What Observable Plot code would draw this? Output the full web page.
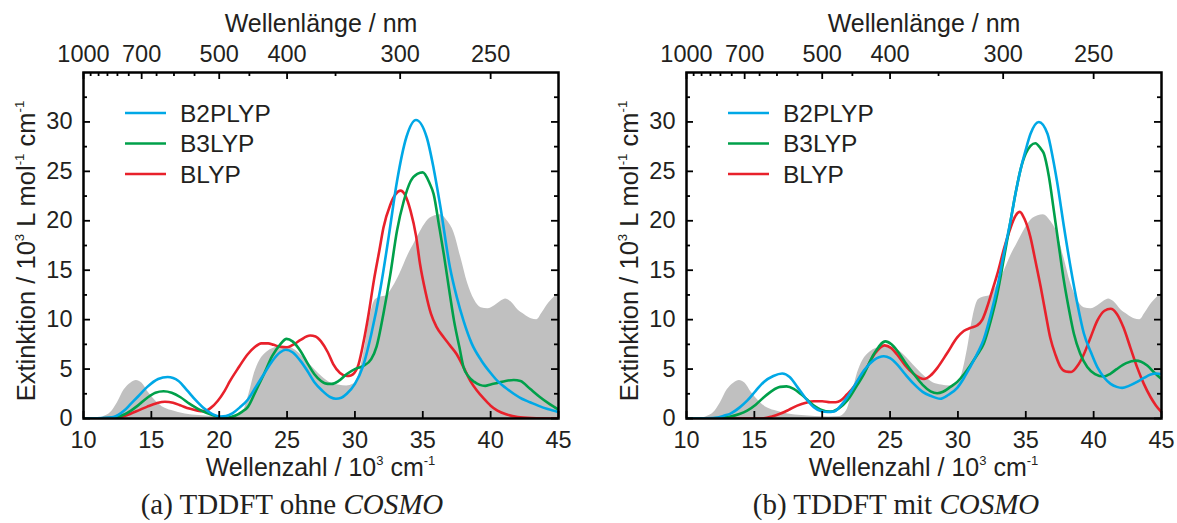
<!DOCTYPE html>
<html><head><meta charset="utf-8">
<script src="https://cdn.jsdelivr.net/npm/d3@7"></script>
<script src="https://cdn.jsdelivr.net/npm/@observablehq/plot@0.6"></script>
<style>
html,body{margin:0;padding:0;background:#fff}
body{width:1177px;height:523px;overflow:hidden;position:relative;font-family:"Liberation Sans",Arial,sans-serif}
.panel{position:absolute;top:0}
.cap{position:absolute;top:490px;font-family:"Liberation Serif","DejaVu Serif",serif;font-size:29px;line-height:29px;white-space:nowrap;transform:translateX(-50%);color:#231f20}
</style></head><body>
<div id="pa" class="panel" style="left:0;width:590px"></div>
<div id="pb" class="panel" style="left:590px;width:587px"></div>
<div class="cap" style="left:292px">(a) TDDFT ohne <i>COSMO</i></div>
<div class="cap" style="left:896px">(b) TDDFT mit <i>COSMO</i></div>
<script>
// ---- axis ticks ----
const xMajor = [10, 15, 20, 25, 30, 35, 40, 45];
const yMajor = [0, 5, 10, 15, 20, 25, 30];
const yMinor = [2.5, 7.5, 12.5, 17.5, 22.5, 27.5, 32.5];
const nmMajor = [1000, 700, 500, 400, 300, 250];
const nmMinor = [950, 900, 850, 800, 750, 650, 600, 550, 450, 350];
const seriesNames = ["B2PLYP", "B3LYP", "BLYP"];
const seriesColors = ["#00a8e6", "#00a04a", "#e8212b"];

// ---- experimental spectrum (grey) ----
const expX = [10, 11, 11.5, 12, 12.5, 13, 13.5, 13.9, 14.3, 14.8, 15.3, 15.8, 16.5, 17.5, 18.5, 19.5, 20.5, 21.3, 21.8, 22.2, 22.6, 23.0, 23.5, 24.0, 24.6, 25.2, 25.8, 26.4, 27.0, 27.6, 28.2, 28.8, 29.4, 29.9, 30.3, 30.7, 31.1, 31.5, 31.9, 32.3, 32.8, 33.3, 33.9, 34.4, 34.9, 35.4, 35.9, 36.3, 36.8, 37.3, 37.8, 38.3, 38.8, 39.3, 39.8, 40.3, 40.8, 41.1, 41.5, 42.0, 42.5, 43.0, 43.4, 43.8, 44.3, 44.7, 45];
const expY = [0, 0, 0.2, 0.6, 1.6, 2.9, 3.6, 3.85, 3.6, 2.6, 1.8, 1.2, 0.8, 0.45, 0.3, 0.2, 0.15, 0.2, 0.8, 2.5, 4.6, 5.9, 6.7, 7.1, 7.3, 7.2, 6.7, 5.9, 5.0, 4.2, 3.6, 3.4, 3.3, 3.5, 4.5, 7.0, 10.2, 12.0, 12.3, 12.4, 13.3, 14.6, 16.5, 17.8, 19.1, 20.1, 20.5, 20.6, 20.0, 18.8, 16.3, 13.7, 12.0, 11.2, 11.1, 11.4, 11.9, 12.1, 11.8, 11.0, 10.5, 10.1, 10.0, 10.7, 11.7, 12.3, 12.7];

// ---- panel (a): TDDFT ohne COSMO ----
const aB2PLYPx = [10, 11, 12.2, 13, 13.5, 14, 14.7, 15.5, 16.2, 17, 17.6, 18.3, 18.9, 19.5, 20.1, 20.5, 21, 21.5, 22.1, 22.7, 23.3, 23.9, 24.5, 24.9, 25.4, 26, 26.5, 27, 27.6, 28.2, 28.6, 29, 29.4, 30, 30.6, 31.2, 31.9, 32.5, 33.1, 33.8, 34.5, 35.3, 35.8, 36.3, 37, 37.5, 38, 38.6, 39.3, 40, 40.5, 41.1, 41.7, 42.3, 42.9, 43.5, 44.2, 45];
const aB2PLYPy = [0, 0.02, 0.15, 0.8, 1.5, 2.2, 3.2, 4.0, 4.2, 3.8, 2.9, 1.8, 1.0, 0.45, 0.2, 0.25, 0.55, 1.1, 1.9, 3.2, 4.5, 5.8, 6.7, 6.95, 6.7, 5.8, 4.8, 3.7, 2.8, 2.15, 2.0, 2.1, 2.5, 3.5, 5.3, 8.5, 13.3, 18.5, 24, 28.5, 30.2, 28.4, 25.3, 21.4, 15.3, 12.3, 9.9, 7.6, 5.9, 4.6, 3.8, 3.1, 2.5, 2.0, 1.65, 1.3, 0.95, 0.65];
const aB3LYPx = [10, 11, 12.2, 13, 13.5, 14, 14.7, 15.3, 15.9, 16.5, 17.15, 17.8, 18.4, 19, 19.6, 20.1, 20.6, 21.2, 21.7, 22.1, 22.7, 23.3, 23.9, 24.5, 24.96, 25.4, 26, 26.5, 27, 27.5, 28, 28.3, 28.8, 29.4, 30, 30.6, 31.2, 31.6, 32.1, 32.6, 33.1, 33.6, 34.1, 34.6, 35.0, 35.5, 35.8, 36.2, 36.55, 37.0, 37.3, 37.7, 38.0, 38.4, 38.8, 39.2, 39.6, 40.0, 40.5, 41.1, 41.7, 42.2, 42.9, 43.6, 44.3, 45];
const aB3LYPy = [0, 0.01, 0.07, 0.4, 0.8, 1.3, 2.1, 2.6, 2.75, 2.6, 2.15, 1.5, 1.0, 0.6, 0.3, 0.12, 0.07, 0.3, 0.7, 1.15, 2.8, 4.5, 6.3, 7.5, 8.05, 7.8, 6.8, 5.6, 4.5, 3.8, 3.5, 3.5, 3.8, 4.5, 5.0, 5.3, 6.0, 7.3, 10.6, 14.5, 19, 22, 24, 24.75, 24.9, 23.8, 22.7, 19.5, 16.6, 12.5, 9.9, 7.2, 5.2, 4.2, 3.7, 3.4, 3.3, 3.45, 3.6, 3.8, 3.9, 3.8, 3.0, 2.2, 1.5, 0.9];
const aBLYPx = [10, 11, 12.2, 13, 13.5, 14.1, 14.7, 15.4, 16.0, 16.6, 17.2, 17.8, 18.4, 18.9, 19.4, 19.9, 20.4, 20.8, 21.4, 22.1, 22.6, 23.1, 23.6, 24.0, 24.5, 25.0, 25.5, 26.0, 26.7, 27.1, 27.5, 28.0, 28.4, 28.9, 29.4, 29.7, 30.2, 30.6, 31.0, 31.4, 31.8, 32.1, 32.6, 33.0, 33.36, 33.7, 34.1, 34.5, 34.8, 35.2, 35.6, 36.0, 36.55, 37.0, 37.5, 38.0, 38.5, 39.0, 39.5, 40.0, 40.5, 41.2, 42, 43, 45];
const aBLYPy = [0, 0.01, 0.07, 0.25, 0.5, 0.85, 1.2, 1.55, 1.7, 1.6, 1.3, 1.0, 0.8, 0.75, 1.1, 1.8, 2.8, 3.8, 5.1, 6.5, 7.2, 7.6, 7.6, 7.45, 7.25, 7.2, 7.5, 7.95, 8.4, 8.3, 7.8, 6.7, 5.5, 4.6, 4.3, 4.35, 5.2, 7.5, 10.5, 14, 17, 19.3, 21.6, 22.7, 23.05, 22.6, 21, 18.5, 15.6, 12.8, 10.6, 9.3, 8.2, 7.4, 6.5, 5.2, 3.8, 2.8, 2.0, 1.3, 0.8, 0.4, 0.15, 0.05, 0];

// ---- panel (b): TDDFT mit COSMO ----
const bB2PLYPx = [10, 11.5, 12.3, 12.8, 13.24, 13.9, 14.47, 15.1, 15.7, 16.4, 17.05, 17.6, 18.16, 18.8, 19.38, 19.9, 20.4, 20.86, 21.3, 21.84, 22.5, 23.07, 23.8, 24.54, 25.0, 25.5, 26.1, 26.75, 27.4, 27.98, 28.7, 29.3, 29.95, 30.4, 30.9, 31.4, 31.9, 32.4, 32.9, 33.4, 33.88, 34.25, 34.6, 35.0, 35.35, 35.96, 36.6, 37.0, 37.3, 37.8, 38.3, 38.8, 39.28, 39.8, 40.27, 40.8, 41.25, 41.7, 42.1, 42.6, 43.2, 43.7, 44.2, 44.6, 45];
const bB2PLYPy = [0, 0.02, 0.1, 0.3, 0.5, 1.1, 1.8, 2.8, 3.7, 4.3, 4.55, 4.2, 3.2, 2.0, 1.15, 0.75, 0.65, 0.7, 1.2, 2.15, 3.6, 4.85, 5.9, 6.3, 6.1, 5.5, 4.5, 3.5, 2.7, 2.3, 2.0, 2.4, 3.1, 4.0, 5.2, 6.5, 8.0, 10.4, 13.3, 16.8, 20, 22.8, 25.1, 27.2, 28.8, 30.0, 28.8, 26.3, 24, 19.5, 15.3, 11.6, 8.6, 6.7, 5.2, 4.1, 3.5, 3.2, 3.1, 3.3, 3.7, 4.1, 4.45, 4.55, 4.5];
const bB3LYPx = [10, 12, 12.7, 13.24, 13.9, 14.47, 15.1, 15.7, 16.3, 16.9, 17.37, 17.9, 18.4, 18.9, 19.38, 19.9, 20.6, 21.2, 21.84, 22.5, 23.07, 23.8, 24.66, 25.1, 25.5, 26.1, 26.75, 27.4, 27.98, 28.47, 28.9, 29.45, 29.95, 30.4, 30.9, 31.4, 31.9, 32.4, 32.9, 33.4, 33.88, 34.25, 34.6, 35.0, 35.7, 36.1, 36.33, 36.7, 37.07, 37.4, 37.8, 38.2, 38.54, 39.0, 39.53, 40.1, 40.75, 41.2, 41.7, 42.4, 43.1, 43.5, 43.95, 44.5, 45];
const bB3LYPy = [0, 0.03, 0.1, 0.2, 0.45, 0.8, 1.4, 2.15, 2.8, 3.2, 3.25, 3.0, 2.5, 1.9, 1.3, 0.9, 0.7, 1.0, 1.8, 3.2, 4.5, 6.5, 7.8, 7.5, 6.9, 5.7, 4.5, 3.4, 2.75, 2.55, 2.7, 3.2, 3.7, 4.4, 5.35, 6.4, 7.55, 9.8, 12.6, 16.3, 20, 22.8, 25.1, 26.8, 27.85, 27.3, 26.8, 24.5, 21, 17.8, 14, 10.9, 8.6, 6.6, 5.2, 4.5, 4.25, 4.5, 5.0, 5.6, 5.85, 5.75, 5.35, 4.6, 4.0];
const bBLYPx = [10, 15, 15.7, 16.3, 16.93, 17.5, 18.16, 18.8, 19.38, 20.0, 20.6, 21.0, 21.35, 21.8, 22.33, 22.8, 23.3, 23.9, 24.6, 25.1, 25.5, 26.1, 26.75, 27.2, 27.5, 27.98, 28.47, 29.2, 29.95, 30.43, 30.9, 31.4, 31.8, 32.16, 32.5, 32.9, 33.4, 33.88, 34.2, 34.56, 34.9, 35.35, 35.7, 36.1, 36.45, 36.8, 37.2, 37.56, 37.95, 38.35, 38.8, 39.28, 39.8, 40.27, 40.8, 41.25, 41.7, 42.2, 42.7, 43.2, 43.7, 44.2, 44.6, 45];
const bBLYPy = [0, 0, 0.02, 0.2, 0.5, 0.85, 1.3, 1.6, 1.75, 1.75, 1.65, 1.65, 1.8, 2.4, 3.2, 4.2, 5.2, 6.6, 7.4, 7.1, 6.5, 5.4, 4.5, 4.1, 4.0, 4.35, 5.1, 6.6, 8.2, 8.85, 9.15, 9.4, 10.0, 11.3, 12.8, 14.6, 17.2, 19.3, 20.4, 20.9, 20.2, 18.3, 16, 13.3, 10.7, 8.2, 6.4, 5.2, 4.75, 4.7, 5.3, 6.5, 8.3, 9.9, 10.9, 11.1, 10.6, 9.2, 7.2, 5.2, 3.5, 2.15, 1.3, 0.65];

const rows = (xs, ys) => xs.map((x, i) => ({x, y: ys[i]}));
const TXT = "#231f20";

function addRich(svg, attrs, parts, size) {
  const t = d3.select(svg).append("text").attr("fill", TXT).attr("font-size", size).attr("text-anchor", "middle");
  for (const [k, v] of Object.entries(attrs)) t.attr(k, v);
  let raised = false;
  for (const p of parts) {
    const sup = p.startsWith("^");
    const s = t.append("tspan").text(sup ? p.slice(1) : p);
    if (sup) { s.attr("font-size", size * 0.52).attr("dy", -size * 0.45); raised = true; }
    else if (raised) { s.attr("dy", size * 0.45); raised = false; }
  }
}

function drawPanel(el, o) {
  const H = 480, mt = 72, mb = 62;
  const pw = o.width - o.ml - o.mr, ph = H - mt - mb;
  const tk = {stroke: "#000", strokeWidth: 1.8};
  const lab = {lineAnchor: "middle", fontSize: 23.5};
  // series drawn BLYP first, B2PLYP on top
  const lines = [2, 1, 0].map(i => Plot.line(rows(o.series[i][0], o.series[i][1]), {
    x: "x", y: "y", stroke: seriesColors[i], strokeWidth: 2.6, curve: "monotone-x", clip: true
  }));
  const svg = Plot.plot({
    width: o.width, height: H,
    marginLeft: o.ml, marginRight: o.mr, marginTop: mt, marginBottom: mb,
    x: {domain: [10, 45], axis: null},
    y: {domain: [0, 35], axis: null},
    style: {fontFamily: '"Liberation Sans", Arial, sans-serif', fontSize: "23.5px", color: TXT, background: "#fff", overflow: "visible"},
    marks: [
      Plot.areaY(rows(expX, expY), {x: "x", y: "y", fill: "#c0c0c0", curve: "monotone-x", clip: true}),
      ...lines,
      Plot.ruleX(xMajor, {x: d => d, insetTop: ph - 7, ...tk}),
      Plot.ruleX(nmMajor, {x: d => 1e4 / d, insetBottom: ph - 7, ...tk}),
      Plot.ruleX(nmMinor, {x: d => 1e4 / d, insetBottom: ph - 4, ...tk}),
      Plot.ruleY(yMajor, {y: d => d, insetRight: pw - 7, ...tk}),
      Plot.ruleY(yMinor, {y: d => d, insetRight: pw - 4, ...tk}),
      Plot.ruleY(yMajor, {y: d => d, insetLeft: pw - 7, ...tk}),
      Plot.ruleY(yMinor, {y: d => d, insetLeft: pw - 4, ...tk}),
      Plot.frame({stroke: "#000", strokeWidth: 2.5}),
      Plot.text(xMajor, {x: d => d, frameAnchor: "bottom", dy: 21.5, text: d => String(d), ...lab}),
      Plot.text(nmMajor, {x: d => 1e4 / d, frameAnchor: "top", dy: -18.5, text: d => String(d), ...lab}),
      Plot.text(yMajor, {y: d => d, frameAnchor: "left", dx: -11, textAnchor: "end", text: d => String(d), ...lab}),
      Plot.text(["Wellenlänge / nm"], {frameAnchor: "top", dy: -49, lineAnchor: "middle", fontSize: 25})
    ]
  });
  const cx = o.ml + pw / 2;
  addRich(svg, {x: cx, y: 476}, ["Wellenzahl / 10", "^3", " cm", "^-1"], 25);
  addRich(svg, {transform: `translate(${o.ml - 48},251) rotate(-90)`}, ["Extinktion / 10", "^3", " L mol", "^-1", " cm", "^-1"], 25.5);
  // legend
  const g = d3.select(svg).append("g");
  seriesNames.forEach((name, i) => {
    const yy = 113 + i * 30.5;
    g.append("line").attr("x1", o.ml + 42).attr("x2", o.ml + 83).attr("y1", yy).attr("y2", yy)
      .attr("stroke", seriesColors[i]).attr("stroke-width", 2.6);
    g.append("text").attr("x", o.ml + 97).attr("y", yy).attr("dy", "0.36em")
      .attr("text-anchor", "start").attr("font-size", 24.5).attr("fill", TXT).text(name);
  });
  document.getElementById(el).appendChild(svg);
}

drawPanel("pa", {width: 590, ml: 83, mr: 32, series: [[aB2PLYPx, aB2PLYPy], [aB3LYPx, aB3LYPy], [aBLYPx, aBLYPy]]});
drawPanel("pb", {width: 587, ml: 96, mr: 16, series: [[bB2PLYPx, bB2PLYPy], [bB3LYPx, bB3LYPy], [bBLYPx, bBLYPy]]});
</script>
</body></html>
